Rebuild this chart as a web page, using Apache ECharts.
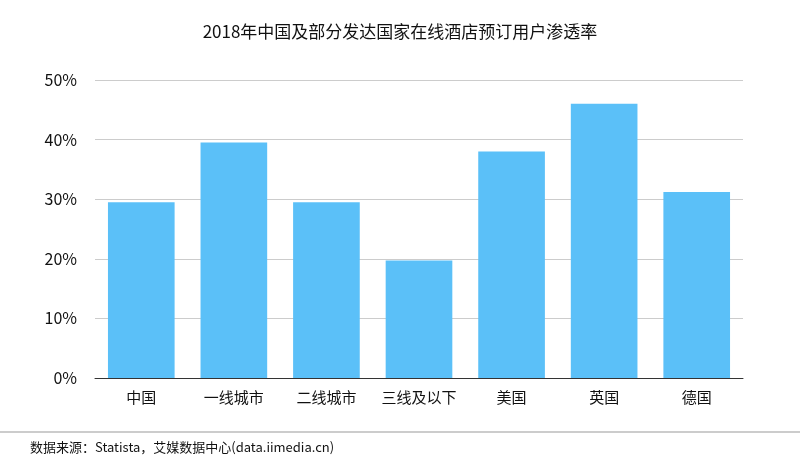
<!DOCTYPE html>
<html><head><meta charset="utf-8">
<script src="https://cdn.jsdelivr.net/npm/echarts@6/dist/echarts.min.js"></script>
<style>html,body{margin:0;padding:0;background:#fff}#c{width:800px;height:475px}</style>
</head><body><div id="c"></div>
<script>
const categories = ['中国','一线城市','二线城市','三线及以下','美国','英国','德国'];
const values = [29.5, 39.5, 29.5, 19.7, 38.0, 46.0, 31.2];
const chart = echarts.init(document.getElementById('c'));
chart.setOption({
  animation:false,
  textStyle:{fontFamily:'"Noto Sans CJK SC", sans-serif'},
  title:{text:'2018年中国及部分发达国家在线酒店预订用户渗透率',left:'center',top:18,
    textStyle:{fontSize:17,fontWeight:'normal',color:'#111'}},
  grid:{left:95,right:57,top:80,bottom:97},
  xAxis:{type:'category',data:categories,
    axisLine:{lineStyle:{color:'#333'}},axisTick:{show:false},
    axisLabel:{interval:0,color:'#111',fontSize:15,margin:12}},
  yAxis:{type:'value',min:0,max:50,interval:10,
    axisLabel:{formatter:'{value}%',color:'#111',fontSize:16,margin:18},
    axisLine:{show:false},axisTick:{show:false},
    splitLine:{lineStyle:{color:'#ccc'}}},
  series:[{type:'bar',data:values,barWidth:'72%',itemStyle:{color:'#5bc0f8'}}],
  graphic:[
    {type:'line',shape:{x1:0,y1:432,x2:800,y2:432},style:{stroke:'#999',lineWidth:1}},
    {type:'text',left:30,top:441,style:{text:'数据来源：Statista，艾媒数据中心(data.iimedia.cn)',fontSize:13,fill:'#111',fontFamily:'"Noto Sans CJK SC", sans-serif'}}
  ]
});
</script></body></html>
